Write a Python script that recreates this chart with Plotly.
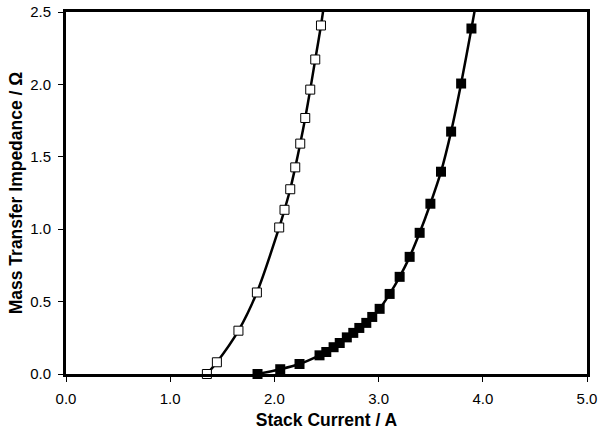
import plotly.graph_objects as go

# Open squares series
open_x = [1.352, 1.448, 1.655, 1.832, 2.046, 2.097, 2.152, 2.200, 2.248, 2.296, 2.344, 2.392, 2.447]
open_y = [0.0, 0.081, 0.299, 0.563, 1.012, 1.134, 1.276, 1.427, 1.591, 1.768, 1.964, 2.172, 2.407]
open_line_end = (2.49, 2.62)

# Filled squares series
filled_x = [1.838, 2.056, 2.241, 2.433, 2.498, 2.568, 2.627, 2.695, 2.757, 2.815, 2.882, 2.939,
            3.010, 3.106, 3.202, 3.298, 3.394, 3.497, 3.599, 3.696, 3.792, 3.891]
filled_y = [0.0, 0.033, 0.069, 0.129, 0.152, 0.185, 0.214, 0.253, 0.284, 0.318, 0.353, 0.394,
            0.450, 0.553, 0.671, 0.809, 0.975, 1.176, 1.397, 1.674, 2.006, 2.386]
filled_line_end = (3.96, 2.66)

x_ticks = [0, 1, 2, 3, 4, 5]
x_tick_labels = ["0.0", "1.0", "2.0", "3.0", "4.0", "5.0"]
y_ticks = [0, 0.5, 1.0, 1.5, 2.0, 2.5]
y_tick_labels = ["0.0", "0.5", "1.0", "1.5", "2.0", "2.5"]

fig = go.Figure()

fig.add_trace(go.Scatter(
    x=open_x + [open_line_end[0]], y=open_y + [open_line_end[1]],
    mode="lines", line=dict(color="black", width=2.5, shape="spline", smoothing=0.8),
    hoverinfo="skip", showlegend=False))
fig.add_trace(go.Scatter(
    x=filled_x + [filled_line_end[0]], y=filled_y + [filled_line_end[1]],
    mode="lines", line=dict(color="black", width=2.5, shape="spline", smoothing=0.8),
    hoverinfo="skip", showlegend=False))

fig.add_trace(go.Scatter(
    x=open_x, y=open_y, mode="markers",
    marker=dict(symbol="square", size=9, color="white", line=dict(color="black", width=1)),
    showlegend=False, cliponaxis=False))
fig.add_trace(go.Scatter(
    x=filled_x, y=filled_y, mode="markers",
    marker=dict(symbol="square", size=10, color="black", line=dict(color="black", width=0)),
    showlegend=False, cliponaxis=False))

axis_font = dict(family="Liberation Sans, Arial, sans-serif", size=15, color="black")
title_font = dict(family="Liberation Sans, Arial, sans-serif", size=17.5, color="black")

fig.update_layout(
    width=600, height=437,
    margin=dict(l=66, r=13, t=12, b=63, autoexpand=False),
    paper_bgcolor="white", plot_bgcolor="white",
    xaxis=dict(
        range=[0, 5], tickvals=x_ticks, ticktext=x_tick_labels,
        showgrid=False, zeroline=False, automargin=False,
        showline=True, linecolor="black", linewidth=2.7, mirror=True,
        ticks="outside", ticklen=5, tickcolor="black", tickwidth=1,
        ticklabelstandoff=4,
        tickfont=axis_font,
        title=dict(text="<b>Stack Current / A</b>", font=title_font, standoff=8),
    ),
    yaxis=dict(
        range=[0, 2.5], tickvals=y_ticks, ticktext=y_tick_labels,
        showgrid=False, zeroline=False, automargin=False,
        showline=True, linecolor="black", linewidth=2.7, mirror=True,
        ticks="outside", ticklen=5, tickcolor="black", tickwidth=1,
        ticklabelstandoff=4,
        tickfont=axis_font,
        title=dict(text="<b>Mass Transfer Impedance / Ω</b>", font=title_font, standoff=4),
    ),
)

fig.write_html(
    "out.html",
    config={"displayModeBar": False},
    post_script="document.body.style.margin='0px';document.body.style.overflow='hidden';",
)
